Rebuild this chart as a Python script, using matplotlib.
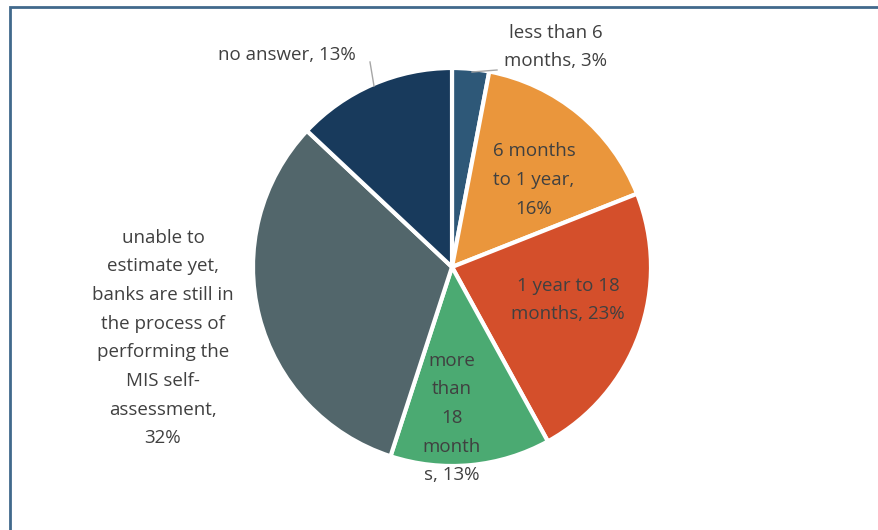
import matplotlib.pyplot as plt
from matplotlib.patches import Rectangle

# share of banks by expected remediation time
labels = ["less than 6\nmonths, 3%",
          "6 months\nto 1 year,\n16%",
          "1 year to 18\nmonths, 23%",
          "more\nthan\n18\nmonth\ns, 13%",
          "unable to\nestimate yet,\nbanks are still in\nthe process of\nperforming the\nMIS self-\nassessment,\n32%",
          "no answer, 13%"]
values = [3, 16, 23, 13, 32, 13]
colors = ["#2E5878", "#EA963C", "#D44F2B", "#4BAA72", "#52666B", "#183A5C"]

W, H = 879, 530
fig = plt.figure(figsize=(W / 100, H / 100), dpi=100)
ax = fig.add_axes([0, 0, 1, 1])

cx, cy, r = 452, H - 267, 199
ax.pie(values, colors=colors, startangle=90, counterclock=False,
       center=(cx, cy), radius=r, frame=True,
       wedgeprops=dict(edgecolor="white", linewidth=3))
ax.set_xlim(0, W)
ax.set_ylim(0, H)
ax.set_aspect("equal")
ax.axis("off")

# label positions in pixel space (x, y from top)
pos = [(556, 47), (534, 180), (568, 300), (452, 418), (163, 338), (287, 55)]
txt = dict(fontsize=13.5, color="#404040", ha="center", va="center",
           family="Open Sans", linespacing=1.76)
for lab, (x, y) in zip(labels, pos):
    ax.text(x, H - y, lab, **txt)

# leader lines for the two small outside labels
ax.plot([472, 497], [H - 72, H - 70], color="#A6A6A6", lw=1)
ax.plot([370, 374], [H - 62, H - 86], color="#A6A6A6", lw=1)

# chart border
fig.patches.append(Rectangle((10 / W, -0.1), 1.2, 1 - 7 / H + 0.1,
                             transform=fig.transFigure, fill=False,
                             edgecolor="#41698C", lw=2))

fig.savefig("out.png", dpi=100)
